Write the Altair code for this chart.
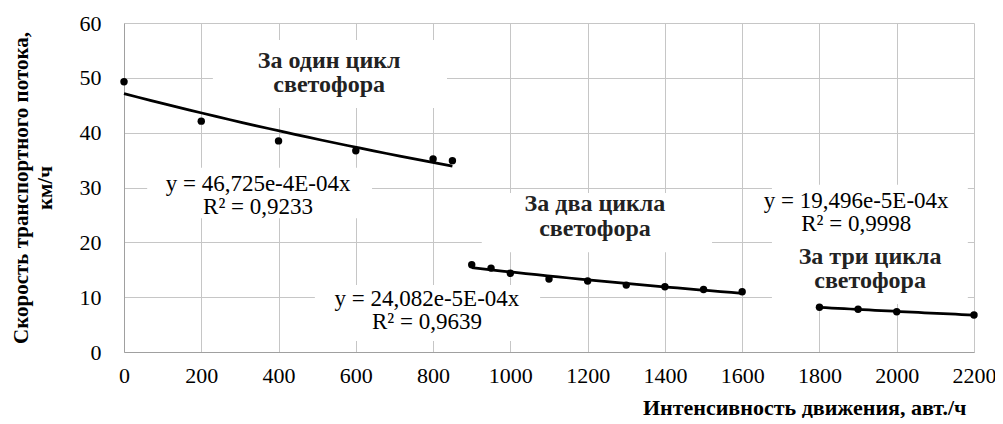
import altair as alt
import pandas as pd

# --- data ---
s1_x = [0, 200, 400, 600, 800, 850]
s1_y = [49.3, 42.1, 38.5, 36.7, 35.2, 34.9]
s2_x = [900, 950, 1000, 1100, 1200, 1300, 1400, 1500, 1600]
s2_y = [15.9, 15.3, 14.35, 13.3, 12.95, 12.2, 11.9, 11.4, 11.0]
s3_x = [1800, 1900, 2000, 2200]
s3_y = [8.15, 7.8, 7.35, 6.75]

x_ticks = list(range(0, 2201, 200))
y_ticks = list(range(0, 61, 10))

x_title = "Интенсивность  движения, авт./ч"
y_title = ["Скорость  транспортного  потока,", "км/ч"]

# annotation texts (lines) with their anchor positions in data units
ann_text = ["За один цикл", "светофора",
            "За два цикла", "светофора",
            "За три цикла", "светофора",
            "y = 46,725e-4E-04x", "R² = 0,9233",
            "y = 24,082e-5E-04x", "R² = 0,9639",
            "y = 19,496e-5E-04x", "R² = 0,9998"]
ann_x = [531, 531, 1219, 1219, 1931, 1931, 347, 347, 784, 784, 1895, 1895]
ann_y = [53.1, 48.7, 26.9, 22.5, 17.4, 13.0, 30.6, 26.4, 9.6, 5.4, 27.5, 23.3]
ann_bold = [True] * 6 + [False] * 6

# white label backgrounds (data units)
box_x1 = [230, 60, 494, 926, 1677]
box_x2 = [836, 642, 1077, 1522, 2184]
box_y1 = [44.5, 24.4, 2.0, 18.2, 8.75]
box_y2 = [56.9, 33.6, 12.2, 29.0, 30.5]

pts = pd.DataFrame({
    "x": s1_x + s2_x + s3_x,
    "y": s1_y + s2_y + s3_y,
    "series": ["s1"] * len(s1_x) + ["s2"] * len(s2_x) + ["s3"] * len(s3_x),
})
ann = pd.DataFrame({"x": ann_x, "y": ann_y, "text": ann_text, "bold": ann_bold})
boxes = pd.DataFrame({"x1": box_x1, "x2": box_x2, "y1": box_y1, "y2": box_y2})

FONT = "Liberation Serif, Times New Roman, serif"
xs = alt.Scale(domain=[0, 2200], nice=False, zero=False)
ys = alt.Scale(domain=[0, 60], nice=False)

x_axis = alt.Axis(values=x_ticks, format="d", ticks=False, labelFont=FONT, labelFontSize=22,
                  labelColor="black", labelPadding=13, labelFlush=False, labelOverlap=False,
                  grid=True, gridColor="#c6c6c6", gridWidth=1, domainColor="#a0a0a0",
                  title=x_title, titleFont=FONT, titleFontSize=22, titleFontWeight="bold",
                  titleColor="black", titleAnchor="end", titleAlign="right",
                  titleX=842, titleY=55, titleBaseline="middle")
y_axis = alt.Axis(values=y_ticks, format="d", ticks=False, labelFont=FONT, labelFontSize=22,
                  labelColor="black", labelPadding=23, labelFlush=False, labelOverlap=False,
                  grid=True, gridColor="#c6c6c6", gridWidth=1, domainColor="#a0a0a0",
                  title=y_title, titleFont=FONT, titleFontSize=21, titleFontWeight="bold",
                  titleColor="black", titleAngle=270, titleAlign="center",
                  titleBaseline="middle", titleX=-103, titleY=164.5, titleLineHeight=24)


def X(field):
    return alt.X(field, type="quantitative", scale=xs, axis=x_axis)


def Y(field):
    return alt.Y(field, type="quantitative", scale=ys, axis=y_axis)


base = alt.Chart(pts)

points = base.mark_circle(size=55, color="black", opacity=1).encode(
    x=X("x"), y=Y("y"),
)

bg = alt.Chart(boxes).mark_rect(fill="white", strokeWidth=0).encode(
    x=X("x1"), x2="x2", y=Y("y1"), y2="y2",
)

trend = base.transform_regression(
    "x", "y", method="exp", groupby=["series"]
).mark_line(color="black", strokeWidth=2.75).encode(
    x=X("x"), y=Y("y"), detail="series:N",
)

txt_bold = alt.Chart(ann).transform_filter("datum.bold").mark_text(
    font=FONT, fontSize=24, fontWeight="bold", color="#222222", align="center", baseline="middle"
).encode(
    x=X("x"), y=Y("y"), text="text:N",
)
txt_reg = alt.Chart(ann).transform_filter("!datum.bold").mark_text(
    font=FONT, fontSize=23, color="black", align="center", baseline="middle"
).encode(
    x=X("x"), y=Y("y"), text="text:N",
)

chart = alt.layer(bg, trend, points, txt_bold, txt_reg).properties(
    width=850, height=329,
    autosize=alt.AutoSizeParams(type="none"),
    padding={"left": 116, "top": 15, "right": 21, "bottom": 66},
    background="white",
).configure_view(stroke=None)

chart.save("out.html", embed_options={"renderer": "svg", "actions": False})
